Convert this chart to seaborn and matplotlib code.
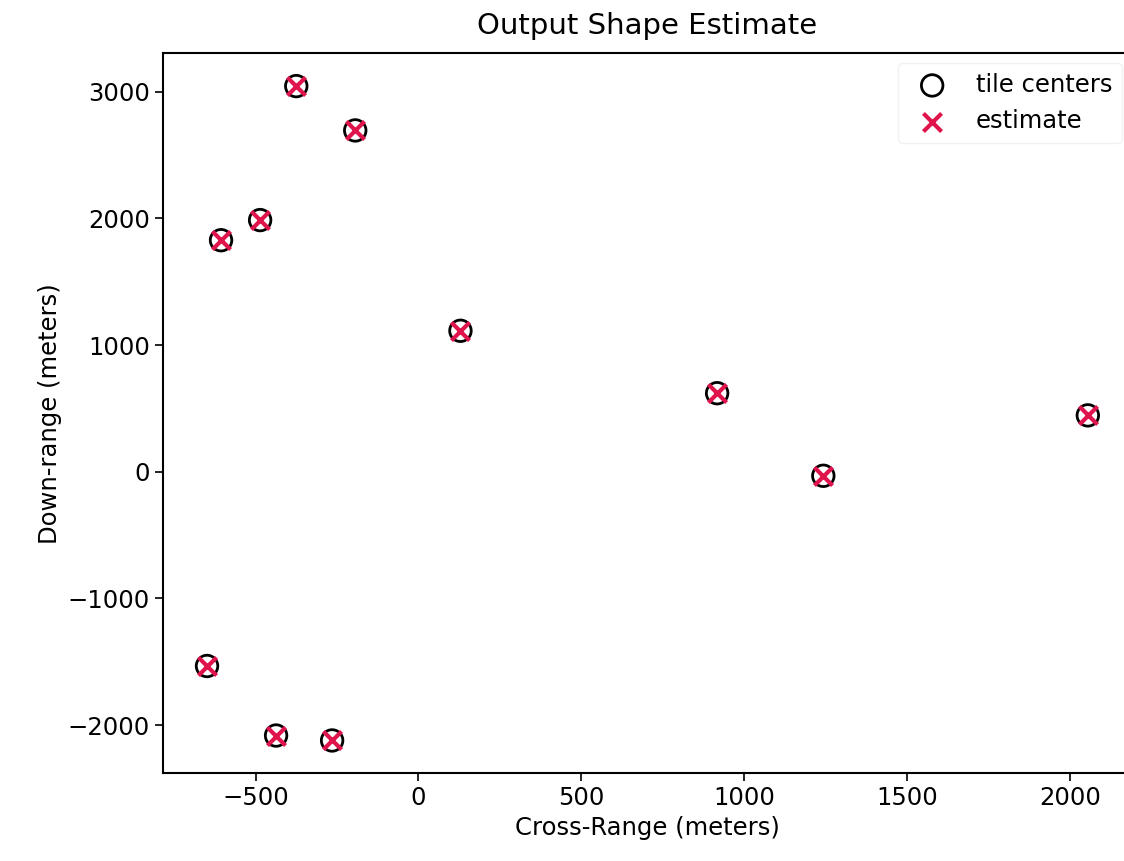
import pandas as pd
import numpy as np
import matplotlib
matplotlib.use("Agg")
import matplotlib.pyplot as plt
import seaborn as sns

# tile centers (cross-range, down-range) in meters
cross_range = [-375, -194, -486, -606, 129, 917, 1243, 2055, -649, -437, -265]
down_range = [3045, 2695, 1987, 1828, 1113, 620, -32, 445, -1534, -2083, -2122]
# estimated positions (same as centers, within marker size)
est_cross = [-375, -194, -486, -606, 129, 917, 1243, 2055, -649, -437, -265]
est_down = [3045, 2695, 1987, 1828, 1113, 620, -32, 445, -1534, -2083, -2122]

centers = pd.DataFrame({"x": cross_range, "y": down_range})
estimate = pd.DataFrame({"x": est_cross, "y": est_down})

plt.rcParams['font.family'] = ['DejaVu Sans']
fs = 17.5

fig = plt.figure(figsize=(11.24, 8.61), dpi=100)
ax = fig.add_axes([0.145, 0.102, 0.862, 0.836])

sns.scatterplot(x="x", y="y", data=centers, ax=ax, marker="o", s=240,
                facecolor="none", edgecolor="black", linewidth=2,
                label="tile centers")
sns.scatterplot(x="x", y="y", data=estimate, ax=ax, marker="x", s=170,
                color="#e0144c", linewidth=3, label="estimate")

ax.set_xticks([-500, 0, 500, 1000, 1500, 2000])
ax.set_yticks([-2000, -1000, 0, 1000, 2000, 3000])
ax.tick_params(labelsize=fs, length=6, width=1.2)
for s in ax.spines.values():
    s.set_linewidth(1.5)
ax.set_xlabel("Cross-Range (meters)", fontsize=fs)
ax.set_ylabel("Down-range (meters)", fontsize=fs)
ax.set_title("Output Shape Estimate", fontsize=21, pad=14)
ax.legend(loc="upper right", fontsize=fs, frameon=True, framealpha=0.8,
          edgecolor="#eeeeee", borderaxespad=0.4)

plt.savefig("out.png", dpi=100)
